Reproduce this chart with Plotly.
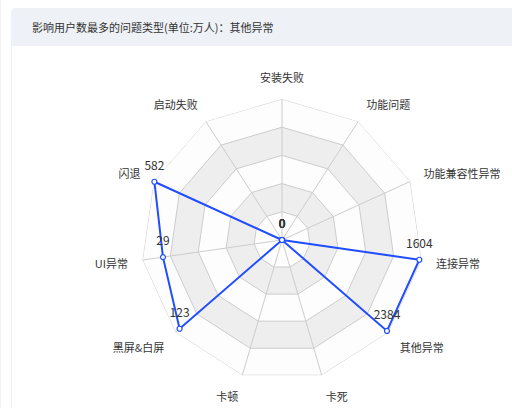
import plotly.graph_objects as go

categories = ["安装失败", "功能问题", "功能兼容性异常", "连接异常", "其他异常", "卡死",
              "卡顿", "黑屏&白屏", "UI异常", "闪退", "启动失败"]
values = [0, 0, 0, 1604, 2384, 0, 0, 123, 29, 582, 0]
indicator_max = [100, 100, 100, 1630, 2420, 100, 100, 128, 34, 585, 100]
title_text = "影响用户数最多的问题类型(单位:万人)：其他异常"

W, H = 512, 408
FONT = "Noto Sans CJK SC, Microsoft YaHei, sans-serif"
BLUE = "#1f4dff"

# normalised radius per indicator (tiny offset keeps centre points from being culled)
EPS = 1e-6
ratio = [v / m + EPS for v, m in zip(values, indicator_max)]
closed_theta = categories + [categories[0]]

fig = go.Figure()

# split areas (outer to inner)
levels = [1.0, 0.8, 0.6, 0.4, 0.2]
fills = ["#fdfdfd", "#eeeeee", "#fdfdfd", "#eeeeee", "#fdfdfd"]
for lv, fc in zip(levels, fills):
    fig.add_trace(go.Scatterpolar(
        r=[lv] * len(closed_theta), theta=closed_theta, mode="lines",
        fill="toself", fillcolor=fc, line=dict(color="#cccccc", width=1),
        hoverinfo="skip", showlegend=False))

# spokes
sr, st = [], []
for c in categories:
    sr += [0, 1, None]
    st += [c, c, None]
fig.add_trace(go.Scatterpolar(r=sr, theta=st, mode="lines",
                              line=dict(color="#cccccc", width=1),
                              hoverinfo="skip", showlegend=False))

# data series
fig.add_trace(go.Scatterpolar(
    r=ratio + [ratio[0]], theta=closed_theta,
    mode="lines+markers",
    line=dict(color=BLUE, width=2),
    marker=dict(symbol="circle", size=5, color="white",
                line=dict(color=BLUE, width=1.2)),
    cliponaxis=False,
    showlegend=False))

# value labels
fig.add_trace(go.Scatterpolar(
    r=ratio, theta=categories,
    mode="markers+text",
    text=[str(v) for v in values],
    textposition="top center",
    textfont=dict(family=FONT, size=12, color="#333333"),
    marker=dict(size=13, opacity=0),
    cliponaxis=False,
    hoverinfo="skip", showlegend=False))

cx, cy, R = 282, 240, 141
fig.update_layout(
    width=W, height=H,
    margin=dict(l=0, r=0, t=0, b=0),
    paper_bgcolor="white",
    showlegend=False,
    polar=dict(
        domain=dict(x=[(cx - R) / W, (cx + R) / W],
                    y=[(H - cy - R) / H, (H - cy + R) / H]),
        bgcolor="rgba(0,0,0,0)",
        gridshape="linear",
        radialaxis=dict(range=[0, 1], visible=False, showgrid=False),
        angularaxis=dict(
            type="category", categoryarray=categories,
            rotation=90, direction="clockwise",
            showgrid=False, showline=False,
            ticks="outside", ticklen=12, tickcolor="rgba(0,0,0,0)",
            tickfont=dict(family=FONT, size=11, color="#333333")),
    ),
)

def px(x):
    return x / W

def py(y):
    return 1 - y / H

# title bar with rounded top-left corner
x0, y0, x1, y1, rr = 11, 8, 512, 46, 5
path = (f"M {px(x0)},{py(y1)} L {px(x0)},{py(y0 + rr)} "
        f"Q {px(x0)},{py(y0)} {px(x0 + rr)},{py(y0)} "
        f"L {px(x1)},{py(y0)} L {px(x1)},{py(y1)} Z")
fig.add_shape(type="path", path=path, xref="paper", yref="paper",
              fillcolor="#eef1f6", line=dict(width=0), layer="below")
# card left border
fig.add_shape(type="line", x0=px(11.5), x1=px(11.5), y0=py(46), y1=py(408),
              xref="paper", yref="paper", line=dict(color="#eeeeee", width=1))
fig.add_shape(type="line", x0=px(0.5), x1=px(0.5), y0=py(0), y1=py(408),
              xref="paper", yref="paper", line=dict(color="#f2f2f2", width=1))

fig.add_annotation(text=title_text, x=px(30), y=py(27), xref="paper", yref="paper",
                   xanchor="left", yanchor="middle", showarrow=False,
                   font=dict(family=FONT, size=11, color="#333333"))

fig.write_html("out.html")
